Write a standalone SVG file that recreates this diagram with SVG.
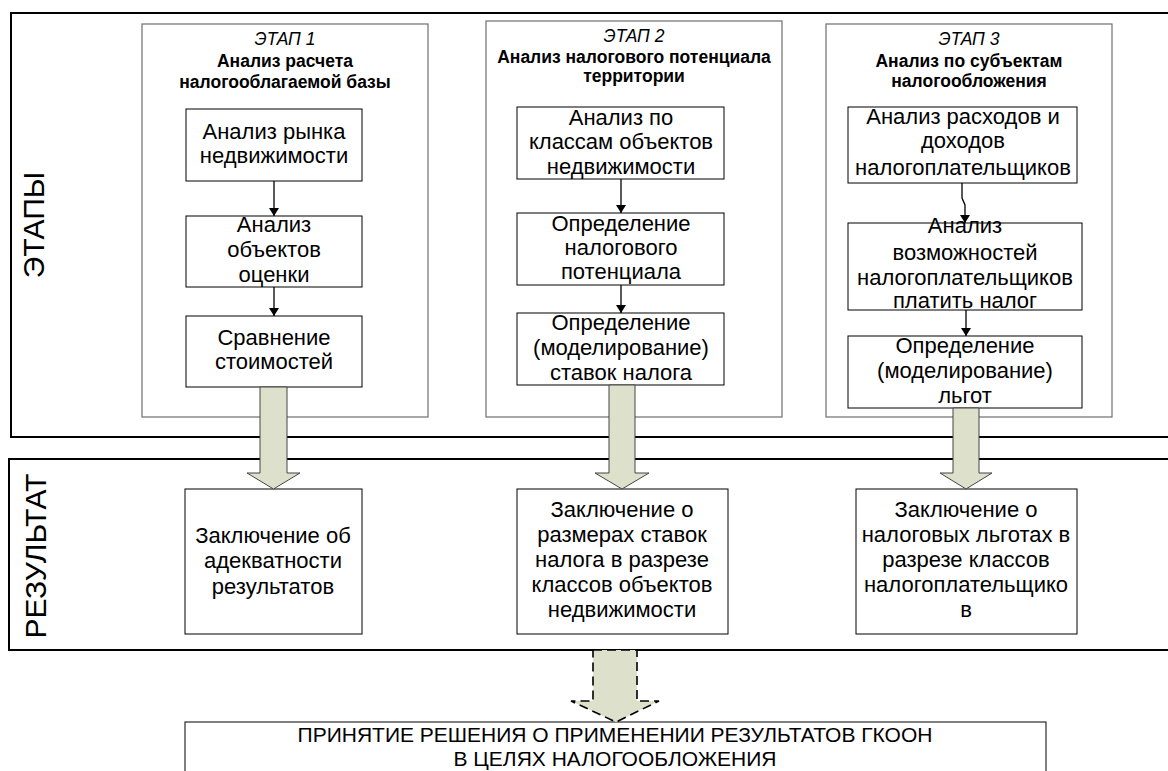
<svg xmlns="http://www.w3.org/2000/svg" width="1168" height="771" viewBox="0 0 1168 771">
<style>
text{font-family:"Liberation Sans",Arial,sans-serif;fill:#000}
.frame{fill:none;stroke:#000;stroke-width:2}
.stage{fill:#fff;stroke:#6e6e6e;stroke-width:1.2}
.box{fill:#fff;stroke:#000;stroke-width:1}
.t{font-size:22px;text-anchor:middle}
.d{font-size:21px;text-anchor:middle}
.h{font-size:17.5px;font-weight:bold;text-anchor:middle}
.hi{font-size:17.5px;font-style:italic;text-anchor:middle}
.side{font-size:30px;text-anchor:middle}
.conn{fill:none;stroke:#000;stroke-width:1.3}
.block{fill:#dde1cc;stroke:#444;stroke-width:1}
.dash{fill:#dde1cc;stroke:#000;stroke-width:1.6;stroke-dasharray:9,5}
</style>
<defs>
<marker id="ah" markerWidth="8" markerHeight="10" refX="8" refY="5" orient="auto" markerUnits="userSpaceOnUse">
<path d="M0,0 L8,5 L0,10 Z" fill="#000"/>
</marker>
</defs>
<rect width="1168" height="771" fill="#fff"/>

<g id="frame-stages">
<rect class="frame" x="11" y="13" width="1170" height="424"/>
<text class="side" transform="translate(44,225) rotate(-90)">ЭТАПЫ</text>
</g>
<g id="frame-result">
<rect class="frame" x="9" y="459" width="1170" height="191"/>
<text class="side" transform="translate(46,556) rotate(-90)">РЕЗУЛЬТАТ</text>
</g>

<g id="stage1">
<rect class="stage" x="142" y="24" width="286" height="393"/>
<text class="hi" x="285" y="45">ЭТАП 1</text>
<text class="h" x="285" y="67">Анализ расчета</text>
<text class="h" x="285" y="88">налогооблагаемой базы</text>
</g>
<g id="s1a"><rect class="box" x="186" y="109" width="176" height="72"/>
<text class="t" x="274" y="139">Анализ рынка</text><text class="t" x="274" y="163">недвижимости</text></g>
<g id="s1b"><rect class="box" x="186" y="216" width="176" height="71"/>
<text class="t" x="274" y="232">Анализ</text><text class="t" x="274" y="257">объектов</text><text class="t" x="274" y="282">оценки</text></g>
<g id="s1c"><rect class="box" x="186" y="316" width="176" height="71"/>
<text class="t" x="274" y="345">Сравнение</text><text class="t" x="274" y="369">стоимостей</text></g>

<g id="stage2">
<rect class="stage" x="486" y="21" width="296" height="396"/>
<text class="hi" x="634" y="42">ЭТАП 2</text>
<text class="h" x="634" y="63">Анализ налогового потенциала</text>
<text class="h" x="634" y="82">территории</text>
</g>
<g id="s2a"><rect class="box" x="517" y="107" width="207" height="72"/>
<text class="t" x="621" y="125">Анализ по</text><text class="t" x="621" y="149">классам объектов</text><text class="t" x="621" y="174">недвижимости</text></g>
<g id="s2b"><rect class="box" x="517" y="213" width="207" height="72"/>
<text class="t" x="621" y="231">Определение</text><text class="t" x="621" y="255">налогового</text><text class="t" x="621" y="279">потенциала</text></g>
<g id="s2c"><rect class="box" x="517" y="313" width="207" height="72"/>
<text class="t" x="621" y="330">Определение</text><text class="t" x="621" y="355">(моделирование)</text><text class="t" x="621" y="380">ставок налога</text></g>

<g id="stage3">
<rect class="stage" x="826" y="24" width="286" height="393"/>
<text class="hi" x="969" y="45">ЭТАП 3</text>
<text class="h" x="969" y="67">Анализ по субъектам</text>
<text class="h" x="969" y="87">налогообложения</text>
</g>
<g id="s3a"><rect class="box" x="848" y="107" width="229" height="76"/>
<text class="t" x="963" y="124">Анализ расходов и</text><text class="t" x="963" y="148">доходов</text><text class="t" x="963" y="175">налогоплательщиков</text></g>
<g id="s3b"><rect class="box" x="848" y="223" width="234" height="87"/>
<text class="t" x="965" y="233">Анализ</text><text class="t" x="965" y="260">возможностей</text><text class="t" x="965" y="285">налогоплательщиков</text><text class="t" x="965" y="308">платить налог</text></g>
<g id="s3c"><rect class="box" x="848" y="336" width="234" height="72"/>
<text class="t" x="965" y="353">Определение</text><text class="t" x="965" y="378">(моделирование)</text><text class="t" x="965" y="403">льгот</text></g>

<g id="r1"><rect class="box" x="185" y="489" width="177" height="145"/>
<text class="t" x="273" y="543">Заключение об</text><text class="t" x="273" y="568">адекватности</text><text class="t" x="273" y="594">результатов</text></g>
<g id="r2"><rect class="box" x="517" y="489" width="211" height="145"/>
<text class="t" x="622" y="517">Заключение о</text><text class="t" x="622" y="542">размерах ставок</text><text class="t" x="622" y="567">налога в разрезе</text><text class="t" x="622" y="592">классов объектов</text><text class="t" x="622" y="617">недвижимости</text></g>
<g id="r3"><rect class="box" x="856" y="489" width="221" height="145"/>
<text class="t" x="966" y="517">Заключение о</text><text class="t" x="966" y="542">налоговых льготах в</text><text class="t" x="966" y="567">разрезе классов</text><text class="t" x="966" y="592">налогоплательщико</text><text class="t" x="966" y="617">в</text></g>

<g id="decision"><rect class="box" x="185" y="722" width="861" height="60" stroke="#555"/>
<text class="d" x="615" y="742">ПРИНЯТИЕ РЕШЕНИЯ О ПРИМЕНЕНИИ РЕЗУЛЬТАТОВ ГКООН</text>
<text class="d" x="615" y="766">В ЦЕЛЯХ НАЛОГООБЛОЖЕНИЯ</text></g>

<g id="connectors">
<line class="conn" x1="274" y1="181" x2="274" y2="216" marker-end="url(#ah)"/>
<line class="conn" x1="274" y1="287" x2="274" y2="316" marker-end="url(#ah)"/>
<line class="conn" x1="621" y1="179" x2="621" y2="213" marker-end="url(#ah)"/>
<line class="conn" x1="621" y1="285" x2="621" y2="313" marker-end="url(#ah)"/>
<polyline class="conn" points="962,183 962,198 965,205 965,223" marker-end="url(#ah)"/>
<line class="conn" x1="966" y1="310" x2="966" y2="336" marker-end="url(#ah)"/>
<polygon class="block" points="260,387 287,387 287,473 300,473 273.5,489 247,473 260,473"/>
<polygon class="block" points="609,385 635,385 635,473 649,473 622,489 595,473 609,473"/>
<polygon class="block" points="953,408 979,408 979,473 992,473 966,489 940,473 953,473"/>
<polygon class="dash" points="593,650 637,650 637,701 659,701 616,722 571,701 593,701"/>
</g>
</svg>
